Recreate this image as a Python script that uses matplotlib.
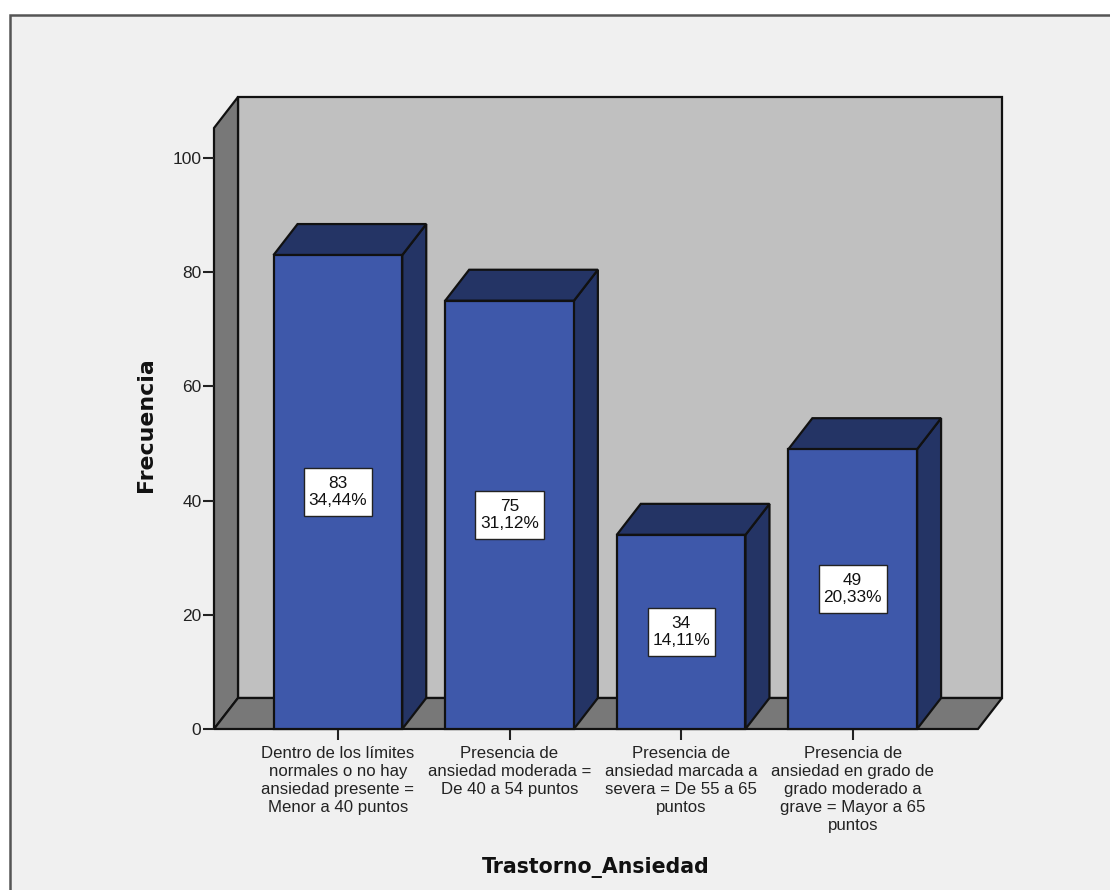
import matplotlib
matplotlib.use("Agg")
import matplotlib.pyplot as plt
from matplotlib.patches import Polygon, Rectangle
from matplotlib.path import Path

categorias = [
    "Dentro de los límites\nnormales o no hay\nansiedad presente =\nMenor a 40 puntos",
    "Presencia de\nansiedad moderada =\nDe 40 a 54 puntos",
    "Presencia de\nansiedad marcada a\nsevera = De 55 a 65\npuntos",
    "Presencia de\nansiedad en grado de\ngrado moderado a\ngrave = Mayor a 65\npuntos",
]
frecuencias = [83, 75, 34, 49]
porcentajes = ["34,44%", "31,12%", "14,11%", "20,33%"]
y_ticks = [0, 20, 40, 60, 80, 100]

W, H = 1110, 890
LEFT, RIGHT, TOP, BOTTOM = 214, 978, 128, 729
XMIN, XMAX = -0.722, 3.73
YMAX = 105.25
BAR_W = 0.75

BLUE = "#3e58aa"
BLUE_DARK = "#243465"
EDGE = "#111111"
WALL = "#c0c0c0"
SIDE = "#787878"
LW = 1.6

fig = plt.figure(figsize=(W / 100, H / 100), dpi=100, facecolor="white")
plt.rcParams["font.family"] = ["Liberation Sans"]

# panel gris con borde, por debajo de los ejes
fig.add_artist(Rectangle((10 / W, -0.01), 1.01, (H - 15) / H + 0.01, transform=fig.transFigure,
                         facecolor="#f0f0f0", edgecolor="#555555", linewidth=1.8, zorder=-1))

ax = fig.add_axes([LEFT / W, 1 - BOTTOM / H, (RIGHT - LEFT) / W, (BOTTOM - TOP) / H])
ax.set_xlim(XMIN, XMAX)
ax.set_ylim(0, YMAX)
ax.patch.set_visible(False)

# profundidad del efecto 3D, en unidades de datos
dx = 24 / ((RIGHT - LEFT) / (XMAX - XMIN))
dy = 31 / ((BOTTOM - TOP) / YMAX)


def cara(puntos, color, z):
    ax.add_patch(Polygon(puntos, closed=True, facecolor=color, edgecolor=EDGE, linewidth=LW,
                         joinstyle="miter", clip_on=False, zorder=z))


# caja de etiqueta: mas relleno en vertical que en horizontal (pixeles)
def caja(x0, y0, ancho, alto, mutation_size):
    px, py = 4.7, 8.5
    x1, y1 = x0 + ancho + px, y0 + alto + py
    x0, y0 = x0 - px, y0 - py
    return Path([(x0, y0), (x1, y0), (x1, y1), (x0, y1), (x0, y0)], closed=True)


# paredes y suelo
cara([(XMIN + dx, dy), (XMAX + dx, dy), (XMAX + dx, YMAX + dy), (XMIN + dx, YMAX + dy)], WALL, 1)
cara([(XMIN, 0), (XMIN + dx, dy), (XMIN + dx, YMAX + dy), (XMIN, YMAX)], SIDE, 1)
cara([(XMIN, 0), (XMAX, 0), (XMAX + dx, dy), (XMIN + dx, dy)], SIDE, 1)

# barras
for i, v in enumerate(frecuencias):
    x0, x1 = i - BAR_W / 2, i + BAR_W / 2
    cara([(x1, 0), (x1 + dx, dy), (x1 + dx, v + dy), (x1, v)], BLUE_DARK, 3)
    cara([(x0, v), (x1, v), (x1 + dx, v + dy), (x0 + dx, v + dy)], BLUE_DARK, 3)
    cara([(x0, 0), (x1, 0), (x1, v), (x0, v)], BLUE, 4)
    ax.text(i, v / 2, f"{v}\n{porcentajes[i]}", ha="center", va="center", fontsize=12.4,
            linespacing=1.12, color="#111111", zorder=6,
            bbox=dict(boxstyle=caja, facecolor="white", edgecolor="#222222", linewidth=1.0))

for s in ax.spines.values():
    s.set_visible(False)

ax.set_yticks(y_ticks)
ax.set_xticks(range(len(categorias)))
ax.set_xticklabels(categorias, linespacing=1.25)
ax.tick_params(axis="y", length=8, width=1.5, color="#222222", labelsize=12.5, pad=1, labelcolor="#222222")
ax.tick_params(axis="x", length=8, width=1.5, color="#222222", labelsize=12.1, pad=4, labelcolor="#222222")
for lab in ax.get_xticklabels():
    lab.set_verticalalignment("top")

fig.text(146 / W, 1 - 425 / H, "Frecuencia", rotation=90, ha="center", va="center",
         family="DejaVu Sans", fontweight="bold", fontsize=15.8, color="#111111")
fig.text(595.5 / W, 1 - 867 / H, "Trastorno_Ansiedad", ha="center", va="center",
         family="DejaVu Sans", fontweight="bold", fontsize=14.8, color="#111111")

fig.savefig("out.png", dpi=100, facecolor=fig.get_facecolor())
